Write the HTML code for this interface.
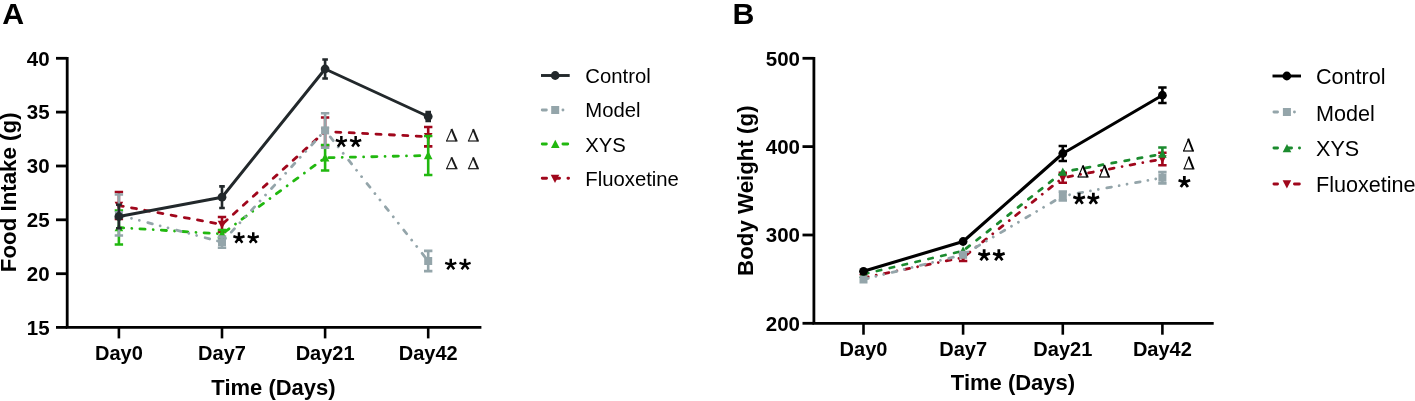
<!DOCTYPE html>
<html><head><meta charset="utf-8"><style>
html,body{margin:0;padding:0;background:#fff;}
body{width:1415px;height:401px;overflow:hidden;}
svg{display:block;font-family:"Liberation Sans", sans-serif;will-change:transform;}
</style></head><body>
<svg width="1415" height="401" viewBox="0 0 1415 401">
<text x="2.3" y="24" font-size="30.3" font-weight="bold">A</text>
<path d="M67.2 57 V327.4 M65.7 327.4 H481.4" stroke="#000" stroke-width="2.8" fill="none"/>
<path d="M56 58.3 H67.2" stroke="#000" stroke-width="2.8"/>
<text x="49.6" y="65.6" font-size="20.5" font-weight="bold" text-anchor="end" fill="#000">40</text>
<path d="M56 112.1 H67.2" stroke="#000" stroke-width="2.8"/>
<text x="49.6" y="119.4" font-size="20.5" font-weight="bold" text-anchor="end" fill="#000">35</text>
<path d="M56 166.0 H67.2" stroke="#000" stroke-width="2.8"/>
<text x="49.6" y="173.3" font-size="20.5" font-weight="bold" text-anchor="end" fill="#000">30</text>
<path d="M56 219.8 H67.2" stroke="#000" stroke-width="2.8"/>
<text x="49.6" y="227.1" font-size="20.5" font-weight="bold" text-anchor="end" fill="#000">25</text>
<path d="M56 273.7 H67.2" stroke="#000" stroke-width="2.8"/>
<text x="49.6" y="281" font-size="20.5" font-weight="bold" text-anchor="end" fill="#000">20</text>
<path d="M56 327.4 H67.2" stroke="#000" stroke-width="2.8"/>
<text x="49.6" y="334.7" font-size="20.5" font-weight="bold" text-anchor="end" fill="#000">15</text>
<path d="M118.9 327.4 V338.4" stroke="#000" stroke-width="2.6"/>
<text x="118.9" y="360" font-size="20" font-weight="bold" text-anchor="middle" fill="#000">Day0</text>
<path d="M222.0 327.4 V338.4" stroke="#000" stroke-width="2.6"/>
<text x="222" y="360" font-size="20" font-weight="bold" text-anchor="middle" fill="#000">Day7</text>
<path d="M325.1 327.4 V338.4" stroke="#000" stroke-width="2.6"/>
<text x="325.1" y="360" font-size="20" font-weight="bold" text-anchor="middle" fill="#000">Day21</text>
<path d="M428.2 327.4 V338.4" stroke="#000" stroke-width="2.6"/>
<text x="428.2" y="360" font-size="20" font-weight="bold" text-anchor="middle" fill="#000">Day42</text>
<text x="273.5" y="395" font-size="22" font-weight="bold" text-anchor="middle" fill="#000">Time (Days)</text>
<text transform="translate(16.3 192.3) rotate(-90)" x="0" y="0" font-size="22.3" font-weight="bold" text-anchor="middle">Food Intake (g)</text>
<path d="M118.9 205.5 L222 224.5" fill="none" stroke="#a0071c" stroke-width="2.8" stroke-linecap="round" stroke-dasharray="5.1 8.32" stroke-dashoffset="0.62"/>
<path d="M222 224.5 L325.1 131.5" fill="none" stroke="#a0071c" stroke-width="2.8" stroke-linecap="round" stroke-dasharray="5.1 8.32" stroke-dashoffset="105.46"/>
<path d="M325.1 131.5 L428.2 136.7" fill="none" stroke="#a0071c" stroke-width="2.8" stroke-linecap="round" stroke-dasharray="5.1 8.32" stroke-dashoffset="244.3"/>
<path d="M118.9 192 V219 M114.7 192 H123.1 M114.7 219 H123.1" stroke="#a0071c" stroke-width="2.6" fill="none"/>
<path d="M222 217 V232 M217.8 217 H226.2 M217.8 232 H226.2" stroke="#a0071c" stroke-width="2.6" fill="none"/>
<path d="M325.1 117.5 V145.5 M320.9 117.5 H329.3 M320.9 145.5 H329.3" stroke="#a0071c" stroke-width="2.6" fill="none"/>
<path d="M428.2 127 V146.4 M424 127 H432.4 M424 146.4 H432.4" stroke="#a0071c" stroke-width="2.6" fill="none"/>
<path d="M118.9 210.1 L123.2 201.7 L114.6 201.7 Z" fill="#a0071c"/>
<path d="M222 229.1 L226.3 220.7 L217.7 220.7 Z" fill="#a0071c"/>
<path d="M325.1 136.1 L329.4 127.7 L320.8 127.7 Z" fill="#a0071c"/>
<path d="M428.2 141.3 L432.5 132.9 L423.9 132.9 Z" fill="#a0071c"/>
<path d="M118.9 227.5 L222 234" fill="none" stroke="#21b80f" stroke-width="2.8" stroke-linecap="round" stroke-dasharray="5.2 8.1 0.01 8.12" stroke-dashoffset="0.38"/>
<path d="M222 234 L325.1 157.75" fill="none" stroke="#21b80f" stroke-width="2.8" stroke-linecap="round" stroke-dasharray="5.2 8.1 0.01 8.12" stroke-dashoffset="103.68"/>
<path d="M325.1 157.75 L428.2 155.5" fill="none" stroke="#21b80f" stroke-width="2.8" stroke-linecap="round" stroke-dasharray="5.2 8.1 0.01 8.12" stroke-dashoffset="231.92"/>
<path d="M118.9 210.5 V244.5 M114.7 210.5 H123.1 M114.7 244.5 H123.1" stroke="#21b80f" stroke-width="2.6" fill="none"/>
<path d="M222 230 V238 M217.8 230 H226.2 M217.8 238 H226.2" stroke="#21b80f" stroke-width="2.6" fill="none"/>
<path d="M325.1 145 V170.5 M320.9 145 H329.3 M320.9 170.5 H329.3" stroke="#21b80f" stroke-width="2.6" fill="none"/>
<path d="M428.2 136 V175 M424 136 H432.4 M424 175 H432.4" stroke="#21b80f" stroke-width="2.6" fill="none"/>
<path d="M118.9 222.9 L123.2 231.3 L114.6 231.3 Z" fill="#21b80f"/>
<path d="M222 229.4 L226.3 237.8 L217.7 237.8 Z" fill="#21b80f"/>
<path d="M325.1 153.15 L329.4 161.55 L320.8 161.55 Z" fill="#21b80f"/>
<path d="M428.2 150.9 L432.5 159.3 L423.9 159.3 Z" fill="#21b80f"/>
<path d="M118.9 215 L222 242.2" fill="none" stroke="#94a5aa" stroke-width="2.8" stroke-linecap="round" stroke-dasharray="4.7 8.05 0.01 8.1 0.01 8.78" stroke-dashoffset="-0.23"/>
<path d="M222 242.2 L325.1 130.4" fill="none" stroke="#94a5aa" stroke-width="2.8" stroke-linecap="round" stroke-dasharray="4.7 8.05 0.01 8.1 0.01 8.78" stroke-dashoffset="104.9"/>
<path d="M325.1 130.4 L428.2 261" fill="none" stroke="#94a5aa" stroke-width="2.8" stroke-linecap="round" stroke-dasharray="4.7 8.05 0.01 8.1 0.01 8.78" stroke-dashoffset="258.48"/>
<path d="M118.9 194.5 V235.5 M114.7 194.5 H123.1 M114.7 235.5 H123.1" stroke="#94a5aa" stroke-width="2.6" fill="none"/>
<path d="M222 236.6 V247.8 M217.8 236.6 H226.2 M217.8 247.8 H226.2" stroke="#94a5aa" stroke-width="2.6" fill="none"/>
<path d="M325.1 113.2 V147.6 M320.9 113.2 H329.3 M320.9 147.6 H329.3" stroke="#94a5aa" stroke-width="2.6" fill="none"/>
<path d="M428.2 250.9 V271.1 M424 250.9 H432.4 M424 271.1 H432.4" stroke="#94a5aa" stroke-width="2.6" fill="none"/>
<rect x="114.9" y="211" width="8" height="8" fill="#94a5aa"/>
<rect x="218" y="238.2" width="8" height="8" fill="#94a5aa"/>
<rect x="321.1" y="126.4" width="8" height="8" fill="#94a5aa"/>
<rect x="424.2" y="257" width="8" height="8" fill="#94a5aa"/>
<polyline points="118.9,216.5 222,197.2 325.1,69 428.2,116.5" fill="none" stroke="#22282b" stroke-width="3" stroke-linecap="butt" stroke-linejoin="round"/>
<path d="M118.9 204.8 V228.2 M116.1 204.8 H121.7 M116.1 228.2 H121.7" stroke="#22282b" stroke-width="2.6" fill="none"/>
<path d="M222 186.4 V208 M219.2 186.4 H224.8 M219.2 208 H224.8" stroke="#22282b" stroke-width="2.6" fill="none"/>
<path d="M325.1 59.5 V78.5 M322.3 59.5 H327.9 M322.3 78.5 H327.9" stroke="#22282b" stroke-width="2.6" fill="none"/>
<path d="M428.2 112 V121 M425.4 112 H431 M425.4 121 H431" stroke="#22282b" stroke-width="2.6" fill="none"/>
<circle cx="118.9" cy="216.5" r="4.4" fill="#22282b"/>
<circle cx="222" cy="197.2" r="4.4" fill="#22282b"/>
<circle cx="325.1" cy="69" r="4.4" fill="#22282b"/>
<circle cx="428.2" cy="116.5" r="4.4" fill="#22282b"/>
<path d="M238.95 238 L238.95 232.15 M238.95 238 L244.51 236.19 M238.95 238 L233.39 236.19 M238.95 238 L242.39 242.73 M238.95 238 L235.51 242.73" stroke="#000" stroke-width="2.5" stroke-linecap="butt" fill="none"/>
<path d="M253.25 238 L253.25 232.15 M253.25 238 L258.81 236.19 M253.25 238 L247.69 236.19 M253.25 238 L256.69 242.73 M253.25 238 L249.81 242.73" stroke="#000" stroke-width="2.5" stroke-linecap="butt" fill="none"/>
<path d="M341.35 141.83 L341.35 135.98 M341.35 141.83 L346.91 140.02 M341.35 141.83 L335.79 140.02 M341.35 141.83 L344.79 146.56 M341.35 141.83 L337.91 146.56" stroke="#000" stroke-width="2.5" stroke-linecap="butt" fill="none"/>
<path d="M355.65 141.83 L355.65 135.98 M355.65 141.83 L361.21 140.02 M355.65 141.83 L350.09 140.02 M355.65 141.83 L359.09 146.56 M355.65 141.83 L352.21 146.56" stroke="#000" stroke-width="2.5" stroke-linecap="butt" fill="none"/>
<path d="M450.75 264.63 L450.75 258.78 M450.75 264.63 L456.31 262.82 M450.75 264.63 L445.19 262.82 M450.75 264.63 L454.19 269.36 M450.75 264.63 L447.31 269.36" stroke="#000" stroke-width="2.5" stroke-linecap="butt" fill="none"/>
<path d="M465.05 264.63 L465.05 258.78 M465.05 264.63 L470.61 262.82 M465.05 264.63 L459.49 262.82 M465.05 264.63 L468.49 269.36 M465.05 264.63 L461.61 269.36" stroke="#000" stroke-width="2.5" stroke-linecap="butt" fill="none"/>
<path d="M446.6 141 L451.75 129.3" stroke="#1a1a1a" stroke-width="1.1" fill="none"/><path d="M451.45 129 L456.5 141" stroke="#1a1a1a" stroke-width="2" fill="none"/><path d="M446 141 H457.5" stroke="#1a1a1a" stroke-width="1.2" fill="none"/>
<path d="M468.5 141 L473.4 129.5" stroke="#1a1a1a" stroke-width="1.1" fill="none"/><path d="M473.1 129.2 L477.9 141" stroke="#1a1a1a" stroke-width="2" fill="none"/><path d="M467.9 141 H478.9" stroke="#1a1a1a" stroke-width="1.2" fill="none"/>
<path d="M446.6 168.7 L451.75 157.6" stroke="#1a1a1a" stroke-width="1.1" fill="none"/><path d="M451.45 157.3 L456.5 168.7" stroke="#1a1a1a" stroke-width="2" fill="none"/><path d="M446 168.7 H457.5" stroke="#1a1a1a" stroke-width="1.2" fill="none"/>
<path d="M468.5 168.7 L473.4 157.6" stroke="#1a1a1a" stroke-width="1.1" fill="none"/><path d="M473.1 157.3 L477.9 168.7" stroke="#1a1a1a" stroke-width="2" fill="none"/><path d="M467.9 168.7 H478.9" stroke="#1a1a1a" stroke-width="1.2" fill="none"/>
<path d="M541 75.5 H569.7" stroke="#22282b" stroke-width="2.9" fill="none"/>
<circle cx="555.2" cy="75.5" r="4.4" fill="#22282b"/>
<text x="585.3" y="82.7" font-size="20.3" fill="#000">Control</text>
<path d="M542.25 110 H546.35 M562.95 110 H562.96" stroke="#94a5aa" stroke-width="2.9" stroke-linecap="round" fill="none"/>
<rect x="551.2" y="106" width="8" height="8" fill="#94a5aa"/>
<text x="585.3" y="117.3" font-size="20.3" fill="#000">Model</text>
<path d="M542.25 144 H546.35 M562.95 144 H567.75" stroke="#21b80f" stroke-width="2.9" stroke-linecap="round" fill="none"/>
<path d="M555.3 139.7 L559.6 148.1 L551 148.1 Z" fill="#21b80f"/>
<text x="585.3" y="151.7" font-size="20.3" fill="#000">XYS</text>
<path d="M542.25 178.3 H546.55 M556.45 178.3 H559.55 M567.95 178.3 H568.55" stroke="#a0071c" stroke-width="2.9" stroke-linecap="round" fill="none"/>
<path d="M555 183.1 L559.3 174.7 L550.7 174.7 Z" fill="#a0071c"/>
<text x="585.3" y="186.1" font-size="20.3" fill="#000">Fluoxetine</text>
<text x="732.6" y="24" font-size="30.3" font-weight="bold">B</text>
<path d="M813.9 57 V323.3 M812.4 323.3 H1213.7" stroke="#000" stroke-width="2.8" fill="none"/>
<path d="M802.5 58.3 H813.9" stroke="#000" stroke-width="2.8"/>
<text x="800" y="65.6" font-size="20.5" font-weight="bold" text-anchor="end" fill="#000">500</text>
<path d="M802.5 146.6 H813.9" stroke="#000" stroke-width="2.8"/>
<text x="800" y="153.9" font-size="20.5" font-weight="bold" text-anchor="end" fill="#000">400</text>
<path d="M802.5 235.0 H813.9" stroke="#000" stroke-width="2.8"/>
<text x="800" y="242.3" font-size="20.5" font-weight="bold" text-anchor="end" fill="#000">300</text>
<path d="M802.5 323.3 H813.9" stroke="#000" stroke-width="2.8"/>
<text x="800" y="330.6" font-size="20.5" font-weight="bold" text-anchor="end" fill="#000">200</text>
<path d="M863.5 323.3 V334.7" stroke="#000" stroke-width="2.6"/>
<text x="863.5" y="356" font-size="20" font-weight="bold" text-anchor="middle" fill="#000">Day0</text>
<path d="M963.1 323.3 V334.7" stroke="#000" stroke-width="2.6"/>
<text x="963.1" y="356" font-size="20" font-weight="bold" text-anchor="middle" fill="#000">Day7</text>
<path d="M1062.8 323.3 V334.7" stroke="#000" stroke-width="2.6"/>
<text x="1062.8" y="356" font-size="20" font-weight="bold" text-anchor="middle" fill="#000">Day21</text>
<path d="M1162.4 323.3 V334.7" stroke="#000" stroke-width="2.6"/>
<text x="1162.4" y="356" font-size="20" font-weight="bold" text-anchor="middle" fill="#000">Day42</text>
<text x="1013" y="390.4" font-size="22" font-weight="bold" text-anchor="middle" fill="#000">Time (Days)</text>
<text transform="translate(752.7 190.7) rotate(-90)" x="0" y="0" font-size="22.3" font-weight="bold" text-anchor="middle">Body Weight (g)</text>
<path d="M863.5 277.8 L963.1 257.5" fill="none" stroke="#a0071c" stroke-width="2.8" stroke-linecap="round" stroke-dasharray="4.8 8.15 0.01 8.15" stroke-dashoffset="-0.02"/>
<path d="M963.1 257.5 L1062.8 177.8" fill="none" stroke="#a0071c" stroke-width="2.8" stroke-linecap="round" stroke-dasharray="4.8 8.15 0.01 8.15" stroke-dashoffset="101.63"/>
<path d="M1062.8 177.8 L1162.4 159" fill="none" stroke="#a0071c" stroke-width="2.8" stroke-linecap="round" stroke-dasharray="4.8 8.15 0.01 8.15" stroke-dashoffset="227.07"/>
<path d="M963.1 254 V261 M958.9 254 H967.3 M958.9 261 H967.3" stroke="#a0071c" stroke-width="2.6" fill="none"/>
<path d="M1062.8 172.8 V182.8 M1058.6 172.8 H1067 M1058.6 182.8 H1067" stroke="#a0071c" stroke-width="2.6" fill="none"/>
<path d="M1162.4 152.8 V165.2 M1158.2 152.8 H1166.6 M1158.2 165.2 H1166.6" stroke="#a0071c" stroke-width="2.6" fill="none"/>
<path d="M863.5 282.4 L867.8 274 L859.2 274 Z" fill="#a0071c"/>
<path d="M963.1 262.1 L967.4 253.7 L958.8 253.7 Z" fill="#a0071c"/>
<path d="M1062.8 182.4 L1067.1 174 L1058.5 174 Z" fill="#a0071c"/>
<path d="M1162.4 163.6 L1166.7 155.2 L1158.1 155.2 Z" fill="#a0071c"/>
<path d="M1162.4 147.5 V156 M1158.2 147.5 H1166.6" stroke="#1b8b2e" stroke-width="2.6" fill="none"/>
<path d="M863.5 274.1 L963.1 250.9" fill="none" stroke="#1b8b2e" stroke-width="2.8" stroke-linecap="round" stroke-dasharray="4.4 8.82" stroke-dashoffset="-0.48"/>
<path d="M963.1 250.9 L1062.8 172" fill="none" stroke="#1b8b2e" stroke-width="2.8" stroke-linecap="round" stroke-dasharray="4.4 8.82" stroke-dashoffset="101.79"/>
<path d="M1062.8 172 L1162.4 154" fill="none" stroke="#1b8b2e" stroke-width="2.8" stroke-linecap="round" stroke-dasharray="4.4 8.82" stroke-dashoffset="227.93"/>
<path d="M863.5 269.5 L867.8 277.9 L859.2 277.9 Z" fill="#1b8b2e"/>
<path d="M963.1 246.3 L967.4 254.7 L958.8 254.7 Z" fill="#1b8b2e"/>
<path d="M1062.8 167.4 L1067.1 175.8 L1058.5 175.8 Z" fill="#1b8b2e"/>
<path d="M1162.4 149.4 L1166.7 157.8 L1158.1 157.8 Z" fill="#1b8b2e"/>
<path d="M863.5 279.5 L963.1 254.8" fill="none" stroke="#94a5aa" stroke-width="2.8" stroke-linecap="round" stroke-dasharray="4.7 7.85 0.01 8 0.01 8.64" stroke-dashoffset="-0.21"/>
<path d="M963.1 254.8 L1062.8 196" fill="none" stroke="#94a5aa" stroke-width="2.8" stroke-linecap="round" stroke-dasharray="4.7 7.85 0.01 8 0.01 8.64" stroke-dashoffset="102.41"/>
<path d="M1062.8 196 L1162.4 177.75" fill="none" stroke="#94a5aa" stroke-width="2.8" stroke-linecap="round" stroke-dasharray="4.7 7.85 0.01 8 0.01 8.64" stroke-dashoffset="218.15"/>
<path d="M1062.8 191.5 V200.5 M1058.6 191.5 H1067 M1058.6 200.5 H1067" stroke="#94a5aa" stroke-width="2.6" fill="none"/>
<path d="M1162.4 172.15 V183.35 M1158.2 172.15 H1166.6 M1158.2 183.35 H1166.6" stroke="#94a5aa" stroke-width="2.6" fill="none"/>
<rect x="859.5" y="275.5" width="8" height="8" fill="#94a5aa"/>
<rect x="959.1" y="250.8" width="8" height="8" fill="#94a5aa"/>
<rect x="1058.8" y="192" width="8" height="8" fill="#94a5aa"/>
<rect x="1158.4" y="173.75" width="8" height="8" fill="#94a5aa"/>
<polyline points="863.5,271.3 963.1,241.5 1062.8,153.5 1162.4,95.25" fill="none" stroke="#000000" stroke-width="3.1" stroke-linecap="butt" stroke-linejoin="round"/>
<path d="M1062.8 146 V161 M1058.6 146 H1067 M1058.6 161 H1067" stroke="#000000" stroke-width="2.6" fill="none"/>
<path d="M1162.4 87.5 V103 M1158.2 87.5 H1166.6 M1158.2 103 H1166.6" stroke="#000000" stroke-width="2.6" fill="none"/>
<circle cx="863.5" cy="271.3" r="4.4" fill="#000000"/>
<circle cx="963.1" cy="241.5" r="4.4" fill="#000000"/>
<circle cx="1062.8" cy="153.5" r="4.4" fill="#000000"/>
<circle cx="1162.4" cy="95.25" r="4.4" fill="#000000"/>
<path d="M984.15 255.3 L984.15 249.2 M984.15 255.3 L989.95 253.41 M984.15 255.3 L978.35 253.41 M984.15 255.3 L987.74 260.24 M984.15 255.3 L980.56 260.24" stroke="#000" stroke-width="2.8" stroke-linecap="butt" fill="none"/>
<path d="M998.85 255.3 L998.85 249.2 M998.85 255.3 L1004.65 253.41 M998.85 255.3 L993.05 253.41 M998.85 255.3 L1002.44 260.24 M998.85 255.3 L995.26 260.24" stroke="#000" stroke-width="2.8" stroke-linecap="butt" fill="none"/>
<path d="M1079.15 198.8 L1079.15 192.7 M1079.15 198.8 L1084.95 196.91 M1079.15 198.8 L1073.35 196.91 M1079.15 198.8 L1082.74 203.74 M1079.15 198.8 L1075.56 203.74" stroke="#000" stroke-width="2.8" stroke-linecap="butt" fill="none"/>
<path d="M1093.35 198.8 L1093.35 192.7 M1093.35 198.8 L1099.15 196.91 M1093.35 198.8 L1087.55 196.91 M1093.35 198.8 L1096.94 203.74 M1093.35 198.8 L1089.76 203.74" stroke="#000" stroke-width="2.8" stroke-linecap="butt" fill="none"/>
<path d="M1184.35 182.1 L1184.35 176 M1184.35 182.1 L1190.15 180.21 M1184.35 182.1 L1178.55 180.21 M1184.35 182.1 L1187.94 187.04 M1184.35 182.1 L1180.76 187.04" stroke="#000" stroke-width="2.8" stroke-linecap="butt" fill="none"/>
<path d="M1078.1 177 L1083 165.8" stroke="#000" stroke-width="1.1" fill="none"/><path d="M1082.7 165.5 L1087.5 177" stroke="#000" stroke-width="2" fill="none"/><path d="M1077.5 177 H1088.5" stroke="#000" stroke-width="1.2" fill="none"/>
<path d="M1099.6 177 L1104.5 165.4" stroke="#000" stroke-width="1.1" fill="none"/><path d="M1104.2 165.1 L1109 177" stroke="#000" stroke-width="2" fill="none"/><path d="M1099 177 H1110" stroke="#000" stroke-width="1.2" fill="none"/>
<path d="M1183.6 151 L1188.5 139" stroke="#000" stroke-width="1.1" fill="none"/><path d="M1188.2 138.7 L1193 151" stroke="#000" stroke-width="2" fill="none"/><path d="M1183 151 H1194" stroke="#000" stroke-width="1.2" fill="none"/>
<path d="M1184.1 168.9 L1188.95 156.9" stroke="#000" stroke-width="1.1" fill="none"/><path d="M1188.65 156.6 L1193.4 168.9" stroke="#000" stroke-width="2" fill="none"/><path d="M1183.5 168.9 H1194.4" stroke="#000" stroke-width="1.2" fill="none"/>
<path d="M1272.5 76 H1301" stroke="#000000" stroke-width="2.9" fill="none"/>
<circle cx="1286.8" cy="76" r="4.4" fill="#000000"/>
<text x="1316" y="84.3" font-size="21.6" fill="#000">Control</text>
<path d="M1273.95 112 H1277.55 M1294.45 112 H1294.46" stroke="#94a5aa" stroke-width="2.9" stroke-linecap="round" fill="none"/>
<rect x="1282.9" y="108" width="8" height="8" fill="#94a5aa"/>
<text x="1316" y="120.8" font-size="21.6" fill="#000">Model</text>
<path d="M1273.95 148 H1277.55 M1288.45 148 H1291.55 M1299.45 148 H1299.55" stroke="#1b8b2e" stroke-width="2.9" stroke-linecap="round" fill="none"/>
<path d="M1287 143.9 L1291.3 152.3 L1282.7 152.3 Z" fill="#1b8b2e"/>
<text x="1316" y="156.2" font-size="21.6" fill="#000">XYS</text>
<path d="M1273.95 184 H1277.55 M1294.45 184 H1299.35" stroke="#a0071c" stroke-width="2.9" stroke-linecap="round" fill="none"/>
<path d="M1286.9 188.6 L1291.2 180.2 L1282.6 180.2 Z" fill="#a0071c"/>
<text x="1316" y="192.4" font-size="21.6" fill="#000">Fluoxetine</text>
</svg>
</body></html>
